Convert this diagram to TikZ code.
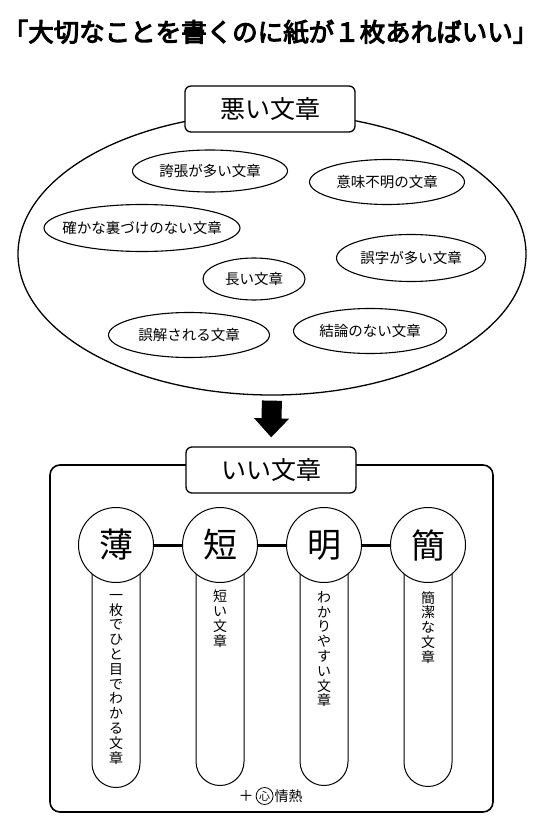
\documentclass[tikz,border=0pt]{standalone}
\usepackage{fontspec}
\setmainfont{Noto Sans CJK JP}
\newfontfamily\titlefont{Noto Sans CJK JP}[FakeBold=4]
\usetikzlibrary{positioning,shapes.geometric,arrows.meta,backgrounds}
\tikzstyle{headbox}=[draw, fill=white, rounded corners=6pt, line width=1.3pt,
        minimum width=170pt, minimum height=46pt, font=\fontsize{25}{25}\selectfont]
\tikzstyle{badtext}=[ellipse, draw, line width=1.1pt, inner xsep=-30pt, inner ysep=0pt,
        font=\fontsize{14.5}{15}\selectfont]
\tikzstyle{kanji}=[circle, draw, fill=white, line width=1pt, minimum size=75pt,
        inner sep=0pt, font=\fontsize{34}{34}\selectfont]
\tikzstyle{pill}=[draw, line width=1pt, rounded corners=24pt, minimum width=48pt,
        anchor=north]
\tikzstyle{vtext}=[align=center, anchor=north, inner sep=0pt,
        font=\fontsize{14}{14.8}\selectfont]

\begin{document}
\begin{tikzpicture}[x=1pt, y=-1pt]
        \useasboundingbox (0,0) rectangle (541,826);

        \node[font=\titlefont\fontsize{25.5}{25.5}\selectfont, inner sep=0pt] (title)
            at (270.5,32) {「大切なことを書くのに紙が１枚あればいい」};

        % bad writing
        \node[ellipse, draw, line width=1.3pt, minimum width=508pt,
            minimum height=282pt] (bad) at (272,254) {};
        \node[headbox] (badhead) at (270,109) {悪い文章};
        \node[badtext, minimum width=155pt, minimum height=42pt] (e1) at (210,171) {誇張が多い文章};
        \node[badtext, minimum width=155pt, minimum height=45pt] (e2) at (387,182) {意味不明の文章};
        \node[badtext, minimum width=196pt, minimum height=47pt] (e3) at (142,228) {確かな裏づけのない文章};
        \node[badtext, minimum width=149pt, minimum height=47pt] (e4) at (411,258) {誤字が多い文章};
        \node[badtext, minimum width=102pt, minimum height=42pt] (e5) at (254,279) {長い文章};
        \node[badtext, minimum width=161pt, minimum height=45pt] (e6) at (189,335) {誤解される文章};
        \node[badtext, minimum width=153pt, minimum height=45pt] (e7) at (370,331) {結論のない文章};

        % good writing
        \node[draw, rounded corners=10pt, line width=1.6pt, minimum width=443pt,
            minimum height=347pt] (frame) at (271.5,638.5) {};
        \node[headbox] (goodhead) at (271,470) {いい文章};
        \draw[line width=20pt, -{Triangle[width=34pt, length=19pt]},
            shorten <=5pt, shorten >=9pt] (bad.south) to (goodhead.north);

        \node[kanji] (c1) at (116,545) {薄};
        \node[kanji, right=28pt of c1] (c2) {短};
        \node[kanji, right=28pt of c2] (c3) {明};
        \node[kanji, right=28pt of c3] (c4) {簡};
        \draw[line width=3pt] (c1) to (c2);
        \draw[line width=3pt] (c2) to (c3);
        \draw[line width=3pt] (c3) to (c4);

        \begin{scope}[on background layer]
            \node[pill, minimum height=242pt] (p1) at (c1.center) {};
            \node[pill, minimum height=240pt] (p2) at (c2.center) {};
            \node[pill, minimum height=240pt] (p3) at (c3.center) {};
            \node[pill, minimum height=241pt] (p4) at (c4.center) {};
        \end{scope}

        \node[vtext, below=11pt of c1] (t1)
            {一\\枚\\で\\ひ\\と\\目\\で\\わ\\か\\る\\文\\章};
        \node[vtext, below=7pt of c2] (t2) {短\\い\\文\\章};
        \node[vtext, below=8pt of c3] (t3) {わ\\か\\り\\や\\す\\い\\文\\章};
        \node[vtext, below=8pt of c4] (t4) {簡\\潔\\な\\文\\章};

        \node[font=\fontsize{15}{15}\selectfont, inner sep=0pt] (plus) at (246,796) {＋};
        \node[circle, draw, line width=0.8pt, minimum size=17pt, inner sep=0pt,
            font=\fontsize{11}{11}\selectfont, right=2pt of plus] (kokoro) {心};
        \node[font=\fontsize{14}{14}\selectfont, inner sep=0pt, right=1pt of kokoro]
            (passion) {情熱};

    \end{tikzpicture}
\end{document}
